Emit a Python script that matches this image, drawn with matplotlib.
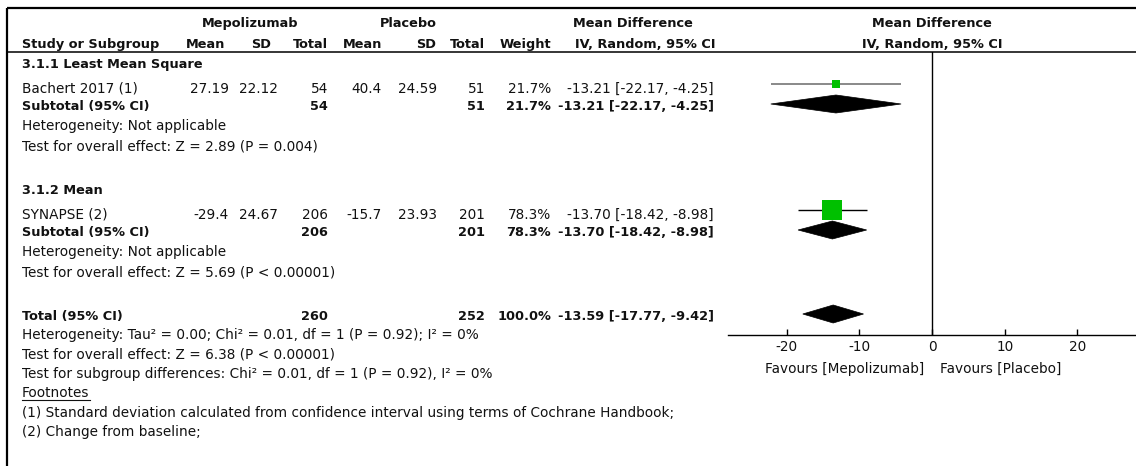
import matplotlib
matplotlib.use("Agg")
import matplotlib.pyplot as plt
from matplotlib.patches import Polygon

plt.rcParams["font.family"] = ["DejaVu Sans"]
plt.rcParams["axes.unicode_minus"] = False

# ---- data -------------------------------------------------------------
subgroups = ["3.1.1 Least Mean Square", "3.1.2 Mean"]
studies = ["Bachert 2017 (1)", "SYNAPSE (2)"]
mepo_mean = [27.19, -29.4]
mepo_sd = [22.12, 24.67]
mepo_n = [54, 206]
pla_mean = [40.4, -15.7]
pla_sd = [24.59, 23.93]
pla_n = [51, 201]
weights = [21.7, 78.3]
md = [-13.21, -13.70]
ci_lo = [-22.17, -18.42]
ci_hi = [-4.25, -8.98]

total_n = [260, 252]
total_weight = 100.0
total_md = -13.59
total_lo = -17.77
total_hi = -9.42

subgroup_het = ["Heterogeneity: Not applicable", "Heterogeneity: Not applicable"]
subgroup_test = ["Test for overall effect: Z = 2.89 (P = 0.004)",
                 "Test for overall effect: Z = 5.69 (P < 0.00001)"]
overall_lines = [
    "Heterogeneity: Tau\u00b2 = 0.00; Chi\u00b2 = 0.01, df = 1 (P = 0.92); I\u00b2 = 0%",
    "Test for overall effect: Z = 6.38 (P < 0.00001)",
    "Test for subgroup differences: Chi\u00b2 = 0.01, df = 1 (P = 0.92), I\u00b2 = 0%",
]
footnotes = ["(1) Standard deviation calculated from confidence interval using terms of Cochrane Handbook;",
             "(2) Change from baseline;"]
x_ticks = [-20, -10, 0, 10, 20]
favours = ["Favours [Mepolizumab]", "Favours [Placebo]"]

# ---- layout (pixels) ----------------------------------------------------
W, H = 1136, 466
FS, FSB = 9.8, 9.3
INK = "#111111"
GREEN = "#00c000"

fig = plt.figure(figsize=(W / 100, H / 100), dpi=100)
bg = fig.add_axes([0, 0, 1, 1])
bg.set_xlim(0, W)
bg.set_ylim(H, 0)
bg.axis("off")


def put(x, y, s, ha="left", bold=False):
    # y is the vertical centre of the capital letters
    return bg.text(x, y + (4.7 if bold else 5.0), s, ha=ha, va="baseline",
                   fontsize=FSB if bold else FS,
                   fontweight="bold" if bold else "normal", color=INK)


# frame lines
bg.plot([7, 7], [8, H], color="black", lw=1.6, solid_capstyle="butt")
bg.plot([7, W], [8, 8], color="black", lw=1.6, solid_capstyle="butt")
bg.plot([7, W], [52, 52], color="black", lw=1.1, solid_capstyle="butt")

# column anchors
X_NAME = 22
X_MM, X_MSD, X_MN = 229, 278, 328
X_PM, X_PSD, X_PN = 382, 437, 485
X_W, X_CI = 551, 714

# header
put(250, 22, "Mepolizumab", ha="center", bold=True)
put(408, 22, "Placebo", ha="center", bold=True)
put(633, 22, "Mean Difference", ha="center", bold=True)
put(932, 22, "Mean Difference", ha="center", bold=True)
put(X_NAME, 43, "Study or Subgroup", bold=True)
put(225, 43, "Mean", ha="right", bold=True)
put(271, 43, "SD", ha="right", bold=True)
put(X_MN, 43, "Total", ha="right", bold=True)
put(X_PM, 43, "Mean", ha="right", bold=True)
put(436, 43, "SD", ha="right", bold=True)
put(X_PN, 43, "Total", ha="right", bold=True)
put(X_W, 43, "Weight", ha="right", bold=True)
put(645, 43, "IV, Random, 95% CI", ha="center", bold=True)
put(932, 43, "IV, Random, 95% CI", ha="center", bold=True)


def fmt_ci(m, lo, hi):
    return f"{m:.2f} [{lo:.2f}, {hi:.2f}]"


# forest axes: x in mean difference, y in the same pixel rows as the table
AX_L, AX_R, AX_TOP, AX_BOT = 728.4, 1135.6, 52, 335
fa = fig.add_axes([AX_L / W, (H - AX_BOT) / H, (AX_R - AX_L) / W, (AX_BOT - AX_TOP) / H])
fa.set_xlim(-28, 28)
fa.set_ylim(AX_BOT, AX_TOP)
fa.patch.set_alpha(0)
for side in ("top", "left", "right"):
    fa.spines[side].set_visible(False)
fa.spines["bottom"].set_linewidth(1.0)
fa.set_yticks([])
fa.set_xticks(x_ticks)
fa.set_xticklabels([str(t) for t in x_ticks])
fa.tick_params(axis="x", direction="in", length=4, width=1, labelsize=FS,
               pad=3.5, colors="black", labelcolor=INK)
fa.axvline(0, color="black", lw=1.0)


def diamond(est, lo, hi, y, half=9):
    fa.add_patch(Polygon([[lo, y], [est, y - half], [hi, y], [est, y + half]],
                         closed=True, facecolor="black", edgecolor="black", lw=0.5))


group_top = [63, 189]
for g in range(len(subgroups)):
    y0 = group_top[g]
    y_study, y_sub = y0 + 25, y0 + 42
    put(X_NAME, y0, subgroups[g], bold=True)
    put(X_NAME, y_study, studies[g])
    put(X_MM, y_study, f"{mepo_mean[g]:g}", ha="right")
    put(X_MSD, y_study, f"{mepo_sd[g]:g}", ha="right")
    put(X_MN, y_study, f"{mepo_n[g]}", ha="right")
    put(X_PM, y_study, f"{pla_mean[g]:g}", ha="right")
    put(X_PSD, y_study, f"{pla_sd[g]:g}", ha="right")
    put(X_PN, y_study, f"{pla_n[g]}", ha="right")
    put(X_W, y_study, f"{weights[g]:.1f}%", ha="right")
    put(X_CI, y_study, fmt_ci(md[g], ci_lo[g], ci_hi[g]), ha="right")

    put(X_NAME, y_sub, "Subtotal (95% CI)", bold=True)
    put(X_MN, y_sub, f"{mepo_n[g]}", ha="right", bold=True)
    put(X_PN, y_sub, f"{pla_n[g]}", ha="right", bold=True)
    put(X_W, y_sub, f"{weights[g]:.1f}%", ha="right", bold=True)
    put(X_CI, y_sub, fmt_ci(md[g], ci_lo[g], ci_hi[g]), ha="right", bold=True)

    put(X_NAME, y0 + 62, subgroup_het[g])
    put(X_NAME, y0 + 82, subgroup_test[g])

    # study marker: CI line + weighted square
    line_col = "#808080" if weights[g] < 50 else "black"
    fa.plot([ci_lo[g], ci_hi[g]], [y_study - 4, y_study - 4], color=line_col,
            lw=1.3 if weights[g] < 50 else 1.0, solid_capstyle="butt", zorder=2)
    side_px = 3.6 + 0.2 * weights[g]
    fa.plot([md[g]], [y_study - 4], marker="s", ms=side_px * 0.72, color=GREEN,
            mew=0, zorder=3)
    diamond(md[g], ci_lo[g], ci_hi[g], y_sub - 1)

# overall
Y_TOT = 315
put(X_NAME, Y_TOT, "Total (95% CI)", bold=True)
put(X_MN, Y_TOT, f"{total_n[0]}", ha="right", bold=True)
put(X_PN, Y_TOT, f"{total_n[1]}", ha="right", bold=True)
put(X_W, Y_TOT, f"{total_weight:.1f}%", ha="right", bold=True)
put(X_CI, Y_TOT, fmt_ci(total_md, total_lo, total_hi), ha="right", bold=True)
diamond(total_md, total_lo, total_hi, Y_TOT - 1)

for i, s in enumerate(overall_lines):
    put(X_NAME, 334 + 19.4 * i, s)
fn = put(X_NAME, 392, "Footnotes")
for i, s in enumerate(footnotes):
    put(X_NAME, 411.5 + 19.4 * i, s)

put(924, 368, favours[0], ha="right")
put(940, 368, favours[1], ha="left")

# underline the footnote heading
fig.canvas.draw()
bb = fn.get_window_extent()
bg.plot([bb.x0, bb.x1], [399.5, 399.5], color=INK, lw=0.8)

fig.savefig("out.png", dpi=100)
